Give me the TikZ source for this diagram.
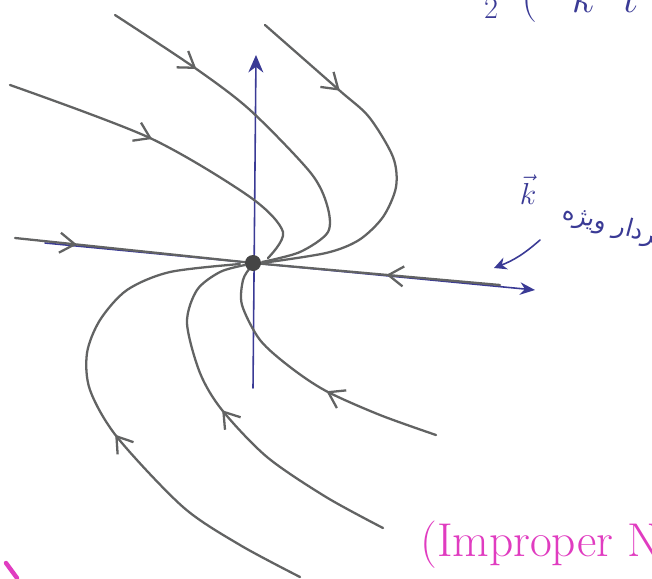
\documentclass[tikz,border=0pt]{standalone}
\usepackage{fontspec}
\usetikzlibrary{arrows.meta,decorations.markings}
\newfontfamily\persianfont[Script=Arabic]{DejaVu Sans}
\TeXXeTstate=1
\definecolor{penblue}{HTML}{3A3A95}
\definecolor{pencil}{HTML}{626363}
\definecolor{penpink}{HTML}{E03CC0}

\begin{document}
\begin{tikzpicture}[x=0.02cm, y=-0.02cm, line join=round, line cap=round,
    traj/.style={pencil, line width=1.3pt},
    axis/.style={penblue, line width=0.9pt},
    midarrow/.style={postaction={decorate, decoration={markings,
        mark=at position #1 with {\arrow{Straight Barb[length=3mm, width=4mm]}}}}}]
    % 页面范围
    \useasboundingbox (0,0) rectangle (652,578);
    \clip (0,0) rectangle (652,578);

    % 结点 O
    \coordinate (O) at (253,263);

    % 1. 坐标轴 (蓝色)
    \coordinate (Xl) at (45,243);
    \coordinate (Xr) at (535,290);
    \coordinate (Yb) at (253,388);
    \coordinate (Yt) at (256,55);
    \draw[axis, -{Stealth[length=3mm, width=2.5mm]}] (Xl) -- (Xr);
    \draw[axis, -{Stealth[length=3.5mm, width=3mm]}] (Yb) -- (Yt);

    % 2. 特征向量方向上的轨线
    \draw[traj, midarrow=0.26] (15,238) -- (O);
    \draw[traj, midarrow=0.46] (500,285) -- (O);

    % 3. 上方轨线 (流入 O)
    \draw[traj, midarrow=0.25] plot[smooth] coordinates {(115,15) (195,68) (250,110) (310,172) (327,205) (328,232) (300,252) (262,262)};
    \draw[traj, midarrow=0.44] plot[smooth] coordinates {(10,85) (150,138) (250,197) (283,232) (268,258)};
    \draw[traj, midarrow=0.26] plot[smooth] coordinates {(265,25) (339,90) (369,117) (393,157) (396,187) (383,217) (359,240) (326,253) (262,263)};

    % 4. 下方轨线
    \draw[traj, midarrow=0.455] plot[smooth] coordinates {(300,577) (240,545) (183,507) (117,437) (90,390) (87,353) (100,320) (127,290) (170,272) (240,264)};
    \draw[traj, midarrow=0.52] plot[smooth] coordinates {(383,528) (326,497) (267,457) (222,410) (200,373) (187,323) (197,290) (220,272) (245,265)};
    \draw[traj, midarrow=0.42] plot[smooth] coordinates {(436,435) (380,415) (326,391) (290,367) (260,340) (242,305) (243,280) (250,268)};

    % 结点处的圆点
    \fill[pencil!70!black] (O) circle (8);

    % 5. 标注
    \node[penblue, font=\fontsize{16}{18}\selectfont] (k) at (528,190) {$\vec{k}$};
    \node[penblue, rotate=-15, anchor=west, font=\fontsize{14}{16}\persianfont] (vec) at (557,211) {\beginR بردار ویژه\endR};
    \coordinate (kp) at (540,240);
    \draw[penblue, line width=0.9pt, -{Stealth[length=2.5mm, width=2.5mm]}] (kp) to[bend left=10] (494,268);

    % 上一行的残字
    \node[penblue, anchor=base west, font=\fontsize{24}{28}\selectfont] (prev) at (478,12) {${}_{2}\hspace{0.45cm}\bigg(\hspace{0.7cm}k\hspace{0.55cm}t$};

    % 6. 粉色文字
    \node[penpink, anchor=base west, font=\fontsize{27}{31}\selectfont] (kind) at (414,556) {(Improper N};
    \draw[penpink, line width=2.5pt] (6,563) -- (17,578);
\end{tikzpicture}
\end{document}
